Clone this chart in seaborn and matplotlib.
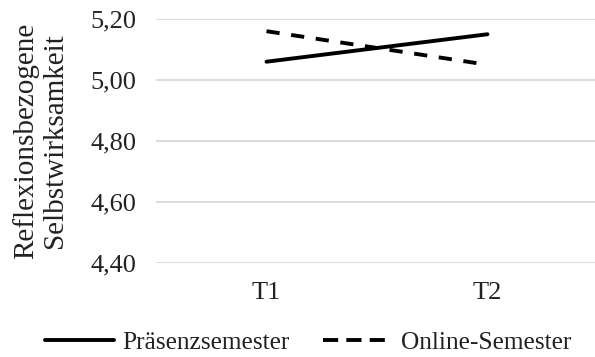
import matplotlib
matplotlib.use("Agg")
import matplotlib.pyplot as plt
import seaborn as sns
import pandas as pd
from matplotlib.ticker import FuncFormatter
from matplotlib.lines import Line2D

zeitpunkte = ["T1", "T2"]
praesenz = [5.06, 5.15]
online = [5.16, 5.05]
gruppen = ["Präsenzsemester", "Online-Semester"]
y_ticks = [4.40, 4.60, 4.80, 5.00, 5.20]

df = pd.DataFrame({
    "Zeitpunkt": zeitpunkte * 2,
    "Wert": praesenz + online,
    "Gruppe": [gruppen[0]] * 2 + [gruppen[1]] * 2,
})

sns.set_theme(style="white")
plt.rcParams["font.family"] = ["Liberation Serif", "DejaVu Serif"]

fig = plt.figure(figsize=(5.95, 3.57), dpi=100)
# axes: x from ~156 px to ~598 px, y from 19 px to 263 px
ax = fig.add_axes([156 / 595, 1 - 263 / 357, 442 / 595, 244 / 357])

lw = 2.8
dash = (3.4, 3.0)
sns.lineplot(data=df, x="Zeitpunkt", y="Wert", hue="Gruppe", style="Gruppe",
             palette=["black", "black"], dashes=[(None, None), dash],
             linewidth=lw, ax=ax, legend=False, sort=False)

ax.set_xlim(-0.5, 1.5)
ax.set_ylim(4.40, 5.20)
ax.set_yticks(y_ticks)
ax.yaxis.set_major_formatter(FuncFormatter(lambda v, p: f"{v:.2f}".replace(".", ",")))
ax.grid(axis="y", color="#d9d9d9", linewidth=1.3)
ax.grid(axis="x", visible=False)
for s in ax.spines.values():
    s.set_visible(False)
ax.tick_params(axis="y", length=0, pad=14, labelsize=19, labelcolor="#222222")
ax.tick_params(axis="x", length=0, pad=14, labelsize=19, labelcolor="#222222")
ax.set_xlabel("")
ax.set_ylabel("Reflexionsbezogene\nSelbstwirksamkeit", fontsize=21, color="#222222",
              linespacing=1.15, labelpad=16)

handles = [Line2D([], [], color="black", lw=lw),
           Line2D([], [], color="black", lw=lw, dashes=(3.9, 2.1))]
fig.legend(handles, gruppen, loc="lower center", bbox_to_anchor=(308 / 595, -0.055),
           ncol=2, frameon=False, fontsize=18.3, handlelength=2.7,
           handletextpad=0.35, columnspacing=1.3, labelcolor="#222222")

fig.savefig("out.png", dpi=100)
